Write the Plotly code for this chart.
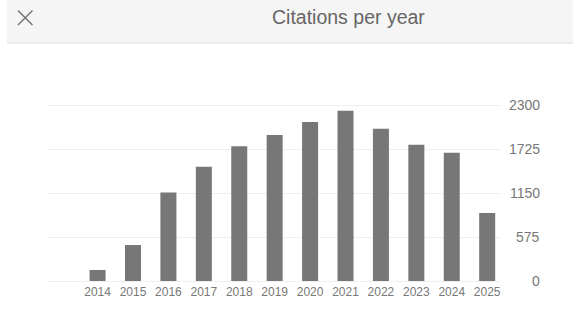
import plotly.graph_objects as go

years = ["2014", "2015", "2016", "2017", "2018", "2019", "2020", "2021", "2022", "2023", "2024", "2025"]
citations = [144, 470, 1158, 1494, 1760, 1908, 2078, 2226, 1991, 1782, 1677, 889]
y_ticks = [0, 575, 1150, 1725, 2300]
y_tick_labels = ["0", "575", "1150", "1725", "2300"]
title_text = "Citations per year"

W, H = 573, 314
PAD_T, PAD_B = 4, 2
L, R, T, B = 47, 73, 105 - PAD_T, 33 - PAD_B
pw, ph = W - L - R, H - T - B
unit = 2300 / 176.0  # data units per pixel

def px(x):
    return (x - L) / pw

def py(y):
    return (H - B - y) / ph

fig = go.Figure()
fig.add_trace(go.Bar(x=years, y=citations, marker=dict(color="#777777", line=dict(width=0)),
                     hoverinfo="x+y"))

shapes = [
    dict(type="rect", xref="paper", yref="paper", x0=px(7), x1=px(W + 5), y0=py(43), y1=py(-5),
         fillcolor="#f5f5f5", line=dict(width=0), layer="below"),
    dict(type="line", xref="paper", yref="paper", x0=px(7), x1=px(W + 5), y0=py(43), y1=py(43),
         line=dict(color="#e0e0e0", width=1.2)),
    dict(type="line", xref="paper", yref="paper", x0=px(18), x1=px(32.5), y0=py(10.5), y1=py(25),
         line=dict(color="#757575", width=1.5)),
    dict(type="line", xref="paper", yref="paper", x0=px(18), x1=px(32.5), y0=py(25), y1=py(10.5),
         line=dict(color="#757575", width=1.5)),
]

annotations = [
    dict(text=title_text, xref="paper", yref="paper", x=px(348), y=py(17), xanchor="center",
         yanchor="middle", showarrow=False, font=dict(size=19.5, color="#666666"))
]
for v, t in zip(y_ticks, y_tick_labels):
    annotations.append(dict(text=t, xref="paper", yref="y", x=px(541.5), y=v, xanchor="right",
                            yanchor="middle", showarrow=False, font=dict(size=14, color="#777777")))

fig.update_layout(
    width=W, height=H,
    margin=dict(l=L, r=R, t=T, b=B, pad=0),
    paper_bgcolor="white", plot_bgcolor="white",
    font=dict(family="Liberation Sans, Arial, sans-serif", color="#777777"),
    bargap=0.548,
    showlegend=False,
    shapes=shapes,
    annotations=annotations,
    xaxis=dict(type="category", range=[-1.428, 11.362], showgrid=False, zeroline=False,
               showline=False, ticks="", tickfont=dict(size=12, color="#777777"),
               fixedrange=True),
    yaxis=dict(range=[-PAD_B * unit, 2300 + PAD_T * unit], tickvals=y_ticks, showticklabels=False,
               showgrid=True, gridcolor="#efefef", gridwidth=1, zeroline=False, showline=False,
               fixedrange=True),
)

fig.write_html("out.html", config={"displayModeBar": False})
